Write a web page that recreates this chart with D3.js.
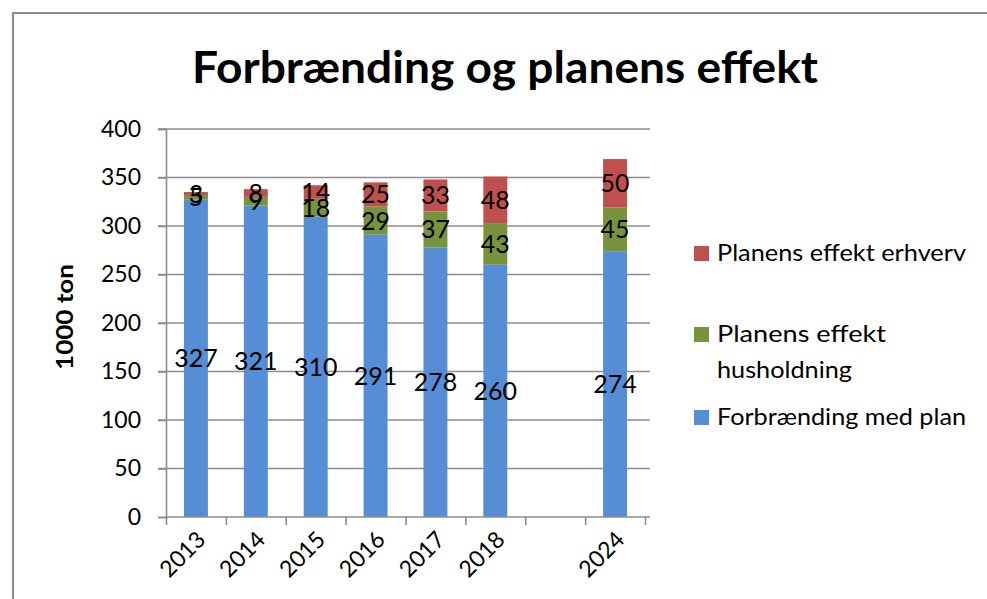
<!DOCTYPE html>
<html>
<head>
<meta charset="utf-8">
<script src="https://cdn.jsdelivr.net/npm/d3@7"></script>
<style>
  html, body { margin: 0; padding: 0; background: #fff; }
  svg { display: block; font-family: Lato, "Open Sans", sans-serif; }
</style>
</head>
<body>
<svg id="chart" width="987" height="599"></svg>
<script>
// ---- data ----
const categories = ["2013", "2014", "2015", "2016", "2017", "2018", "", "2024"];
const forbraending = [327, 321, 310, 291, 278, 260, null, 274];
const husholdning = [5, 9, 18, 29, 37, 43, null, 45];
const erhverv = [3, 8, 14, 25, 33, 48, null, 50];
const yTicks = [0, 50, 100, 150, 200, 250, 300, 350, 400];
const seriesNames = ["Forbrænding med plan", "Planens effekt husholdning", "Planens effekt erhverv"];
const legendLabels = [["Planens effekt erhverv"], ["Planens effekt", "husholdning"], ["Forbrænding med plan"]];
const title = "Forbrænding og planens effekt";
const yTitle = "1000 ton";

const colors = ["#558ED5", "#77933C", "#C0504D"];

const svg = d3.select("#chart");

// frame
svg.append("rect").attr("x", 13).attr("y", 13).attr("width", 1000).attr("height", 620)
  .attr("fill", "#fff").attr("stroke", "#8c8c8c").attr("stroke-width", 2);

const x = d3.scaleBand().domain(categories.map((c, i) => i)).range([166, 645])
  .paddingInner(0.6).paddingOuter(0.3);
const y = d3.scaleLinear().domain([0, 400]).range([517, 129]);

// gridlines
svg.append("g").selectAll("line").data(yTicks.filter(d => d > 0)).join("line")
  .attr("x1", 158).attr("x2", 650)
  .attr("y1", d => y(d)).attr("y2", d => y(d))
  .attr("stroke", "#8c8c8c").attr("stroke-width", 1.6);

// stacked data
const rows = categories.map((c, i) => ({ i, c, a: forbraending[i], b: husholdning[i], e: erhverv[i] }));
const stack = d3.stack().keys(["a", "b", "e"]).value((d, k) => d[k] || 0)(rows);

const gBars = svg.append("g");
stack.forEach((layer, li) => {
  gBars.append("g").selectAll("rect").data(layer.filter(d => d.data.a !== null)).join("rect")
    .attr("x", d => x(d.data.i))
    .attr("width", x.bandwidth())
    .attr("y", d => y(d[1]))
    .attr("height", d => y(d[0]) - y(d[1]))
    .attr("fill", colors[li]);
});

// y axis
const yAxis = d3.axisLeft(y).tickValues(yTicks).tickSize(8).tickPadding(17).tickFormat(d3.format("d"));
const gy = svg.append("g").attr("transform", "translate(166,0)").call(yAxis);
gy.select(".domain").attr("stroke", "#8c8c8c").attr("stroke-width", 1.6);
gy.selectAll(".tick line").attr("stroke", "#8c8c8c").attr("stroke-width", 1.6);
gy.selectAll(".tick text").attr("font-size", 23).attr("fill", "#000").attr("font-family", "Lato");

// x axis: boundary ticks
const xb = d3.scaleLinear().domain([0, categories.length]).range([x.range()[0], x.range()[1]]);
const xAxis = d3.axisBottom(xb).ticks(categories.length).tickSize(8).tickFormat("");
const gx = svg.append("g").attr("transform", "translate(0,517)").call(xAxis);
gx.select(".domain").attr("stroke", "#8c8c8c").attr("stroke-width", 1.6).attr("d", "M166,0H650");
gx.selectAll(".tick line").attr("stroke", "#8c8c8c").attr("stroke-width", 1.6);

// x labels
svg.append("g").selectAll("text").data(rows.filter(d => d.c !== "")).join("text")
  .attr("transform", d => `translate(${x(d.i) + x.bandwidth() / 2 + 11},541) rotate(-45)`)
  .attr("text-anchor", "end")
  .attr("font-size", 23)
  .text(d => d.c);

// data labels
stack.forEach((layer, li) => {
  svg.append("g").selectAll("text").data(layer.filter(d => d.data.a !== null)).join("text")
    .attr("x", d => x(d.data.i) + x.bandwidth() / 2)
    .attr("y", d => (y(d[0]) + y(d[1])) / 2)
    .attr("text-anchor", "middle")
    .attr("dy", "0.36em")
    .attr("font-size", 25)
    .text(d => d[1] - d[0]);
});

// title
svg.append("text").attr("x", 505).attr("y", 83).attr("text-anchor", "middle")
  .attr("font-size", 43).attr("font-weight", 700)
  .attr("textLength", 626).attr("lengthAdjust", "spacingAndGlyphs")
  .text(title);

// y title
svg.append("text").attr("transform", "translate(73,317) rotate(-90)")
  .attr("text-anchor", "middle").attr("font-size", 22).attr("font-weight", 700)
  .attr("textLength", 106).attr("lengthAdjust", "spacingAndGlyphs")
  .text(yTitle);

// legend
const legendY = [246, 327, 410];
const legendColors = [colors[2], colors[1], colors[0]];
const legendWidths = [[249], [169, 135], [249]];
legendLabels.forEach((lines, k) => {
  const g = svg.append("g");
  g.append("rect").attr("x", 694).attr("y", legendY[k]).attr("width", 15).attr("height", 15)
    .attr("fill", legendColors[k]);
  lines.forEach((t, j) => {
    g.append("text").attr("x", 717).attr("y", legendY[k] + 15 + j * 36)
      .attr("font-size", 23)
      .attr("textLength", legendWidths[k][j]).attr("lengthAdjust", "spacingAndGlyphs")
      .text(t);
  });
});
</script>
</body>
</html>
